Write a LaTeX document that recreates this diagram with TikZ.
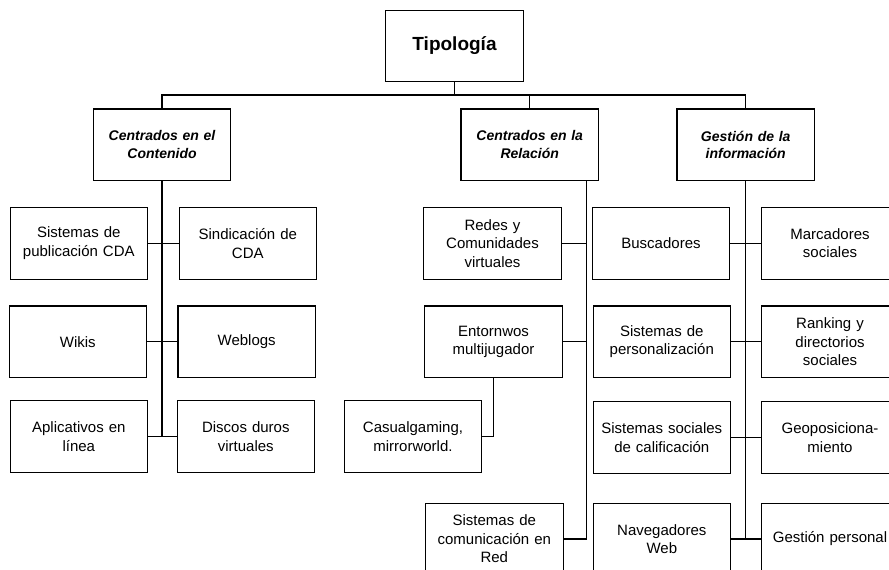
\documentclass[tikz,border=0pt]{standalone}
\usepackage{fontspec}
\setmainfont{Liberation Sans}

\begin{document}
\begin{tikzpicture}[x=1pt,y=-1pt,line width=1.1pt,
  caja/.style={draw,minimum width=137.5pt,minimum height=71.5pt,inner sep=2pt,
    text width=131pt,align=center,font=\fontsize{15}{18.5}\selectfont},
  raiz/.style={caja,font=\fontsize{19}{22}\selectfont\bfseries},
  grupo/.style={caja,font=\fontsize{14}{17.5}\selectfont\bfseries\itshape}]
\useasboundingbox (0,0) rectangle (889,570);
\clip (0,0) rectangle (889,570);
\node[raiz] (tipo) at (454.5,46) {Tipología};
\node[grupo] (cont) at (162,144.7) {Centrados en el\\Contenido};
\node[grupo] (rel) at (529.7,144.7) {Centrados en la\\Relación};
\node[grupo] (gest) at (745.7,144.7) {Gestión de la\\información};
\node[caja] (pub) at (78.8,243.3) {Sistemas de\\publicación CDA};
\node[caja] (sind) at (247.8,243.3) {Sindicación de\\CDA};
\node[caja] (wikis) at (77.8,341.7) {Wikis};
\node[caja] (weblogs) at (246.7,341.7) {Weblogs};
\node[caja] (apl) at (78.8,436.5) {Aplicativos en\\línea};
\node[caja] (discos) at (245.8,436.5) {Discos duros\\virtuales};
\node[caja] (redes) at (492.5,243.3) {Redes y\\Comunidades\\virtuales};
\node[caja] (ent) at (493.5,341.7) {Entornwos\\multijugador};
\node[caja] (casual) at (413,436.5) {Casualgaming,\\mirrorworld.};
\node[caja] (com) at (494.3,539) {Sistemas de\\comunicación en\\Red};
\node[caja] (busc) at (661,243.3) {Buscadores};
\node[caja] (pers) at (661.8,341.7) {Sistemas de\\personalización};
\node[caja] (calif) at (661.8,437.5) {Sistemas sociales\\de calificación};
\node[caja] (nav) at (661.8,539) {Navegadores\\Web};
\node[caja] (marc) at (830,243.3) {Marcadores\\sociales};
\node[caja] (rank) at (830,341.7) {Ranking y\\directorios\\sociales};
\node[caja] (geo) at (830,437.5) {Geoposiciona-\\miento};
\node[caja] (gp) at (830,539) {Gestión personal};
\coordinate (barra) at (454.5,95);
\coordinate (relpie) at (586.7,180.4);
\draw (tipo.south) -- (tipo.south |- barra);
\draw (cont.north) -- (cont.north |- barra) -- (gest.north |- barra) -- (gest.north);
\draw (rel.north) -- (rel.north |- barra);
\draw (cont.south) -- (cont.south |- apl.east);
\draw (pub.east) -- (sind.west);
\draw (wikis.east) -- (weblogs.west);
\draw (apl.east) -- (discos.west);
\draw (relpie) -- (relpie |- com.east);
\draw (redes.east) -- (redes.east -| relpie);
\draw (ent.east) -- (ent.east -| relpie);
\draw (com.east) -- (com.east -| relpie);
\draw (ent.south) |- (casual.east);
\draw (gest.south) -- (gest.south |- gp.west);
\draw (busc.east) -- (marc.west);
\draw (pers.east) -- (rank.west);
\draw (calif.east) -- (geo.west);
\draw (nav.east) -- (gp.west);
\end{tikzpicture}
\end{document}
